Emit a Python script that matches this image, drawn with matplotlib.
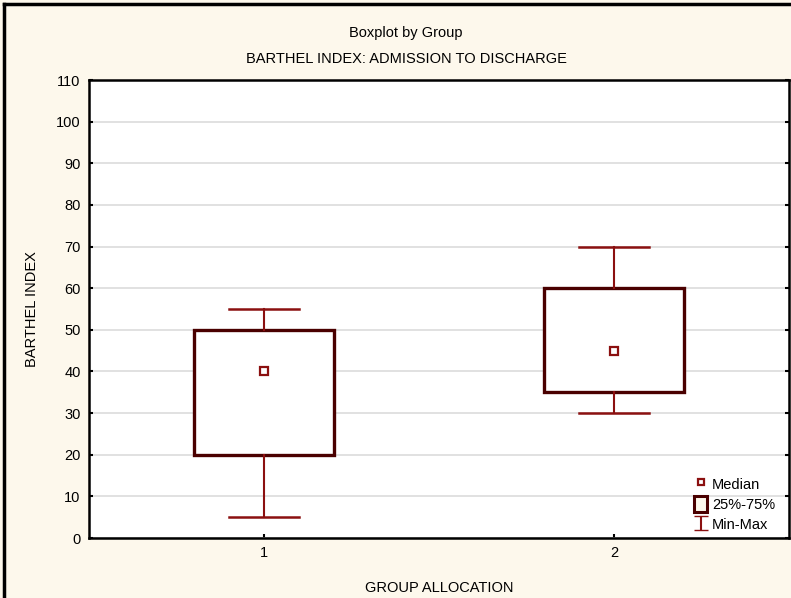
import matplotlib

matplotlib.use("Agg")
import matplotlib.pyplot as plt
from matplotlib.lines import Line2D
from matplotlib.patches import Patch

plt.rcParams["font.family"] = ["Liberation Sans", "DejaVu Sans"]

# summary stats
groups = [1, 2]
mins = [5, 30]
q1s = [20, 35]
medians = [40, 45]
q3s = [50, 60]
maxs = [55, 70]

BG = "#fdf8ec"
BOX_EDGE = "#4a0000"
WHISK = "#8b1010"
FS = 10.5

fig = plt.figure(figsize=(7.91, 5.98), dpi=100, facecolor=BG)
ax = fig.add_axes([89 / 791, 60 / 598, 700 / 791, 458 / 598])
ax.set_facecolor("white")

stats = []
for g, lo, a, m, b, hi in zip(groups, mins, q1s, medians, q3s, maxs):
    stats.append({"label": str(g), "whislo": lo, "q1": a, "med": m, "q3": b, "whishi": hi, "fliers": []})

ax.bxp(
    stats,
    positions=groups,
    widths=0.4,
    showcaps=True,
    patch_artist=True,
    boxprops=dict(facecolor="white", edgecolor=BOX_EDGE, linewidth=2.4),
    whiskerprops=dict(color=WHISK, linewidth=1.5),
    capprops=dict(color=WHISK, linewidth=1.8),
    capwidths=0.2,
    medianprops=dict(linewidth=0),
    zorder=3,
)
ax.plot(groups, medians, ls="none", marker="s", ms=5.5, mfc="white", mec=WHISK, mew=1.6, zorder=4)

ax.set_xlim(0.5, 2.5)
ax.set_ylim(0, 110)
ax.set_yticks(range(0, 111, 10))
ax.set_xticks(groups)
ax.tick_params(axis="both", direction="in", length=3, width=1.5, labelsize=FS, right=True, pad=6)
ax.tick_params(axis="y", labelright=False)
ax.yaxis.grid(True, color="#dcdcdc", linewidth=1.2, zorder=0)
ax.set_axisbelow(True)
for s in ax.spines.values():
    s.set_linewidth(1.8)

ax.set_xlabel("GROUP ALLOCATION", fontsize=FS, labelpad=15)
ax.set_ylabel("BARTHEL INDEX", fontsize=FS, labelpad=12)

fig.text(406 / 791, 1 - 33 / 598, "Boxplot by Group", ha="center", va="center", fontsize=FS)
fig.text(406 / 791, 1 - 59 / 598, "BARTHEL INDEX: ADMISSION TO DISCHARGE", ha="center", va="center", fontsize=FS)

# outer frame (left and top edges visible)
fig.add_artist(Line2D([4 / 791, 4 / 791], [0, 1 - 4 / 598], color="black", lw=2.5, transform=fig.transFigure))
fig.add_artist(Line2D([4 / 791, 1], [1 - 4 / 598, 1 - 4 / 598], color="black", lw=2.5, transform=fig.transFigure))

eb = ax.errorbar([float("nan")], [float("nan")], yerr=[1], fmt="none", ecolor=WHISK, capsize=5, elinewidth=1.5)
handles = [
    Line2D([], [], ls="none", marker="s", ms=5, mfc="white", mec=WHISK, mew=1.6),
    Patch(facecolor=BG, edgecolor=BOX_EDGE, linewidth=2.2),
    eb,
]
ax.legend(
    handles,
    ["Median", "25%-75%", "Min-Max"],
    loc="lower right",
    bbox_to_anchor=(0.995, -0.01),
    frameon=False,
    fontsize=FS,
    handlelength=0.9,
    handleheight=1.3,
    handletextpad=0.35,
    labelspacing=0.3,
    borderaxespad=0.3,
)

fig.savefig("out.png", dpi=100, facecolor=BG)
